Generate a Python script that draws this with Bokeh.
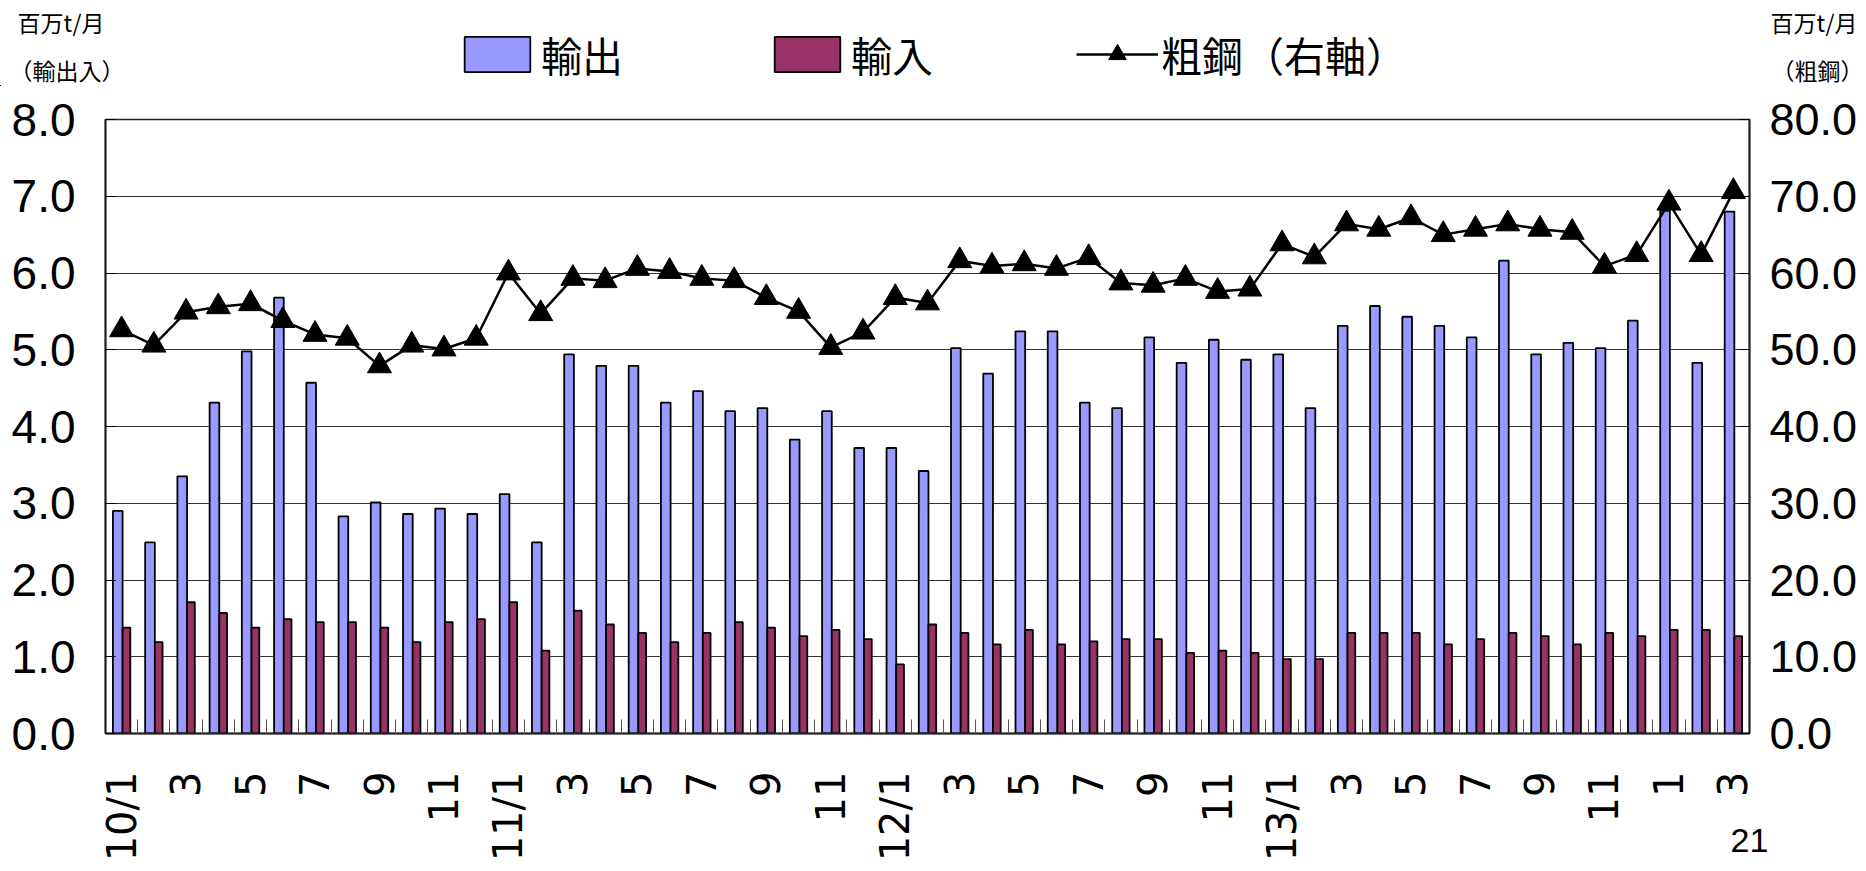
import math
from bokeh.plotting import figure
from bokeh.layouts import column
from bokeh.models import (Range1d, LinearAxis, FixedTicker, NumeralTickFormatter,
                          Legend, LegendItem, Label, ColumnDataSource)
from bokeh.transform import dodge
from bokeh.embed import file_html
from bokeh.resources import INLINE

# ---- data ----
tick_labels = ["10/1", "", "3", "", "5", "", "7", "", "9", "", "11", "",
               "11/1", "", "3", "", "5", "", "7", "", "9", "", "11", "",
               "12/1", "", "3", "", "5", "", "7", "", "9", "", "11", "",
               "13/1", "", "3", "", "5", "", "7", "", "9", "", "11", "",
               "1", "", "3"]

exports = [2.90, 2.49, 3.35, 4.31, 4.98, 5.68, 4.57, 2.83, 3.01, 2.86, 2.93, 2.86,
           3.12, 2.49, 4.94, 4.79, 4.79, 4.31, 4.46, 4.20, 4.24, 3.83, 4.20, 3.72,
           3.72, 3.42, 5.02, 4.69, 5.24, 5.24, 4.31, 4.24, 5.16, 4.83, 5.13, 4.87,
           4.94, 4.24, 5.31, 5.57, 5.43, 5.31, 5.16, 6.16, 4.94, 5.09, 5.02, 5.38,
           6.81, 4.83, 6.80]

imports = [1.38, 1.19, 1.71, 1.57, 1.38, 1.49, 1.45, 1.45, 1.38, 1.19, 1.45, 1.49,
           1.71, 1.08, 1.60, 1.42, 1.31, 1.19, 1.31, 1.45, 1.38, 1.27, 1.35, 1.23,
           0.90, 1.42, 1.31, 1.16, 1.35, 1.16, 1.20, 1.23, 1.23, 1.05, 1.08, 1.05,
           0.97, 0.97, 1.31, 1.31, 1.31, 1.16, 1.23, 1.31, 1.27, 1.16, 1.31, 1.27,
           1.35, 1.35, 1.27]

steel = [52.6, 50.6, 54.9, 55.6, 56.0, 53.8, 52.0, 51.5, 47.9, 50.6, 50.1, 51.5,
         60.0, 54.7, 59.3, 59.0, 60.6, 60.2, 59.3, 59.0, 56.8, 55.0, 50.3, 52.3,
         56.8, 56.1, 61.6, 60.9, 61.2, 60.6, 62.0, 58.7, 58.4, 59.3, 57.6, 57.9,
         63.8, 62.1, 66.4, 65.7, 67.2, 65.0, 65.7, 66.4, 65.7, 65.3, 60.9, 62.4,
         69.1, 62.4, 70.6]

left_ticks = [0, 1, 2, 3, 4, 5, 6, 7, 8]
right_ticks = [0, 10, 20, 30, 40, 50, 60, 70, 80]

series_names = ["輸出", "輸入", "粗鋼（右軸）"]
left_title = ["百万t/月", "（輸出入）"]
right_title = ["百万t/月", "（粗鋼）"]
page_no = "21"

EXP_COLOR = "#9999FF"
IMP_COLOR = "#993366"
W = 1862
HEADER_H = 86
MAIN_H = 868 - HEADER_H

n = len(exports)
idx = list(range(n))
src = ColumnDataSource(dict(x=idx, exports=exports, imports=imports, steel=steel))

# ---- header (legend + axis titles) ----
hdr = figure(width=W, height=HEADER_H, output_backend="svg", toolbar_location=None,
             x_range=Range1d(0, W), y_range=Range1d(0, HEADER_H),
             x_axis_type=None, y_axis_type=None,
             min_border_left=0, min_border_right=0, min_border_top=0, min_border_bottom=0)
hdr.frame_align = False
hdr.outline_line_color = None
hdr.background_fill_color = "white"
hdr.border_fill_color = "white"
# legend sample renderers: same data on a range that keeps them out of view
hdr.extra_x_ranges = {"off": Range1d(1000, 2000)}
hdr.extra_y_ranges = {"off": Range1d(1000, 2000)}
d_exp = hdr.vbar(x="x", top="exports", width=0.3, source=src,
                 x_range_name="off", y_range_name="off",
                 fill_color=EXP_COLOR, line_color="black", line_width=1.8)
d_imp = hdr.vbar(x="x", top="imports", width=0.24, source=src,
                 x_range_name="off", y_range_name="off",
                 fill_color=IMP_COLOR, line_color="black", line_width=1.8)
d_line = hdr.line(x="x", y="steel", source=src, x_range_name="off", y_range_name="off",
                  line_color="black", line_width=2.5)
d_pts = hdr.scatter(x="x", y="steel", source=src, x_range_name="off", y_range_name="off",
                    marker="triangle", size=24, fill_color="black", line_color="black")

legend = Legend(items=[LegendItem(label=series_names[0], renderers=[d_exp]),
                       LegendItem(label=series_names[1], renderers=[d_imp]),
                       LegendItem(label=series_names[2], renderers=[d_line, d_pts])],
                orientation="horizontal", location=(456, 2),
                glyph_width=82, glyph_height=44, label_standoff=3, spacing=143,
                padding=0, margin=0,
                label_text_font="Noto Sans CJK JP", label_text_font_size="41px",
                label_text_color="black",
                background_fill_alpha=0, border_line_alpha=0)
hdr.add_layout(legend, "center")

def add_label(fig, x, y, text, size, font="Noto Sans CJK JP"):
    fig.add_layout(Label(x=x, y=y, x_units="screen", y_units="screen", text=text,
                         text_font=font, text_font_size=size, text_color="black",
                         text_baseline="middle", text_align="left"))

add_label(hdr, 17, HEADER_H - 21, left_title[0], "23px")
add_label(hdr, 9, HEADER_H - 69, left_title[1], "23px")
add_label(hdr, 1770, HEADER_H - 21, right_title[0], "23px")
add_label(hdr, 1771, HEADER_H - 69, right_title[1], "23px")

# ---- main chart ----
p = figure(width=W, height=MAIN_H, output_backend="svg", toolbar_location=None,
           x_range=Range1d(-0.5, n - 0.5), y_range=Range1d(left_ticks[0], left_ticks[-1]),
           min_border_left=105, min_border_right=113, min_border_top=119 - HEADER_H,
           min_border_bottom=135)
p.frame_align = False
p.extra_y_ranges = {"steel": Range1d(right_ticks[0], right_ticks[-1])}
p.background_fill_color = "white"
p.border_fill_color = "white"
p.outline_line_color = "#222222"
p.outline_line_width = 1.5

r_exp = p.vbar(x=dodge("x", -0.12, range=p.x_range), top="exports", width=0.30,
               source=src, fill_color=EXP_COLOR, line_color="black", line_width=1.8)
r_imp = p.vbar(x=dodge("x", 0.15, range=p.x_range), top="imports", width=0.24,
               source=src, fill_color=IMP_COLOR, line_color="black", line_width=1.8)
r_line = p.line("x", "steel", source=src, y_range_name="steel",
                line_color="black", line_width=2.5)
r_pts = p.scatter("x", "steel", source=src, y_range_name="steel", marker="triangle",
                  size=24, fill_color="black", line_color="black")

# x axis
xa = p.xaxis[0]
xa.ticker = FixedTicker(ticks=[i for i, l in enumerate(tick_labels) if l],
                        minor_ticks=[i + 0.5 for i in range(n - 1)])
xa.major_label_overrides = {i: l for i, l in enumerate(tick_labels) if l}
xa.major_label_orientation = math.pi / 2
xa.major_tick_in = 0
xa.major_tick_out = 0
xa.minor_tick_in = 14
xa.minor_tick_out = 0
xa.minor_tick_line_color = "#555555"
xa.axis_line_width = 2
xa.axis_line_color = "#222222"
xa.major_label_text_font = "DejaVu Sans"
xa.major_label_text_font_size = "40px"
xa.major_label_text_color = "black"
xa.major_label_standoff = 38
xa.axis_label = page_no
xa.axis_label_align = "end"
xa.axis_label_standoff = -35
xa.axis_label_text_font = "Liberation Sans"
xa.axis_label_text_font_style = "normal"
xa.axis_label_text_font_size = "34px"
xa.axis_label_text_color = "black"

# left axis
ya = p.yaxis[0]
ya.ticker = FixedTicker(ticks=left_ticks)
ya.formatter = NumeralTickFormatter(format="0.0")
ya.major_tick_in = 10
ya.major_tick_out = 0
ya.minor_tick_line_color = None
ya.axis_line_width = 2
ya.axis_line_color = "#222222"
ya.major_label_text_font = "Liberation Sans"
ya.major_label_text_font_size = "46px"
ya.major_label_text_color = "black"
ya.major_label_standoff = 30

# right axis
ra = LinearAxis(y_range_name="steel", ticker=FixedTicker(ticks=right_ticks),
                formatter=NumeralTickFormatter(format="0.0"))
ra.major_tick_in = 10
ra.major_tick_out = 0
ra.minor_tick_line_color = None
ra.axis_line_width = 2
ra.axis_line_color = "#222222"
ra.major_label_text_font = "Liberation Sans"
ra.major_label_text_font_size = "45px"
ra.major_label_text_color = "black"
ra.major_label_standoff = 20
p.add_layout(ra, "right")

p.xgrid.visible = False
p.ygrid.ticker = FixedTicker(ticks=left_ticks)
p.ygrid.grid_line_color = "#333333"
p.ygrid.grid_line_width = 1

layout = column(hdr, p, spacing=0)
open("out.html", "w").write(file_html(layout, INLINE))
